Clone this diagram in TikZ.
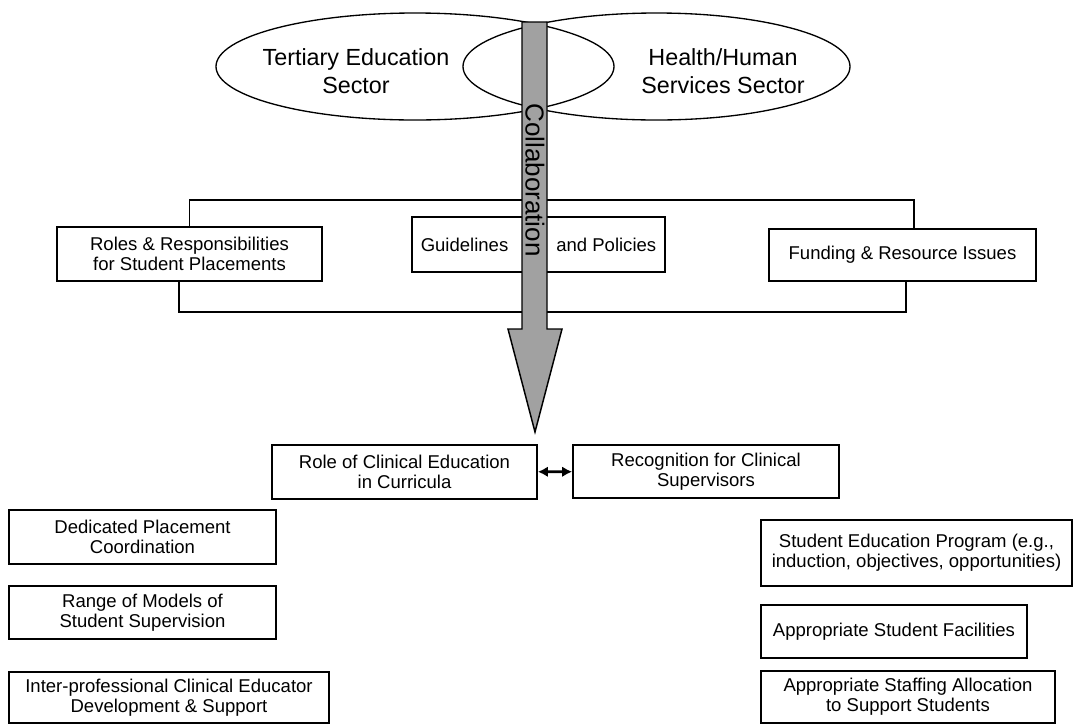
\documentclass[tikz,border=0pt]{standalone}
\usepackage{fontspec}
\setmainfont{Liberation Sans}
\usetikzlibrary{arrows.meta, positioning, calc}

\tikzset{
  box/.style={draw, line width=1.3pt, fill=white, inner sep=0pt, align=center,
    font=\fontsize{13.9}{14.8}\selectfont},
  sector/.style={align=center, font=\fontsize{17.5}{20.8}\selectfont},
  ring/.style={line width=1pt},
  brace/.style={line width=1.1pt},
}

\begin{document}
\begin{tikzpicture}[x=0.75pt, y=-0.75pt, >=latex]
    \useasboundingbox (0,0) rectangle (1075,726);

    % the two sectors
    \draw[ring] (415,66.5) ellipse [x radius=199, y radius=53.5];
    \draw[ring] (656.5,66.5) ellipse [x radius=193.5, y radius=53.5];
    \node[sector] (tert) at (356,71) {Tertiary Education\\Sector};
    \node[sector] (hhs) at (723,71) {Health/Human\\Services Sector};

    % upper row
    \node[box, minimum width=198.75pt, minimum height=40.5pt] (roles) at (189.5,254)
        {Roles \& Responsibilities\\for Student Placements};
    \node[box, minimum width=189.75pt, minimum height=41.25pt] (guide) at (538.5,244.5)
        {Guidelines\hspace{36pt}and Policies};
    \node[box, minimum width=200.25pt, minimum height=39pt] (fund) at (902.5,255)
        {Funding \& Resource Issues};

    \coordinate (bt) at (0,200);
    \coordinate (bb) at (0,312);
    \draw[brace] (roles.north) -- (roles.north |- bt) -| ([xshift=8.6pt]fund.north);
    \draw[brace] ([xshift=-7.9pt]roles.south) -- ([xshift=-7.9pt]roles.south |- bb)
        -| ([xshift=2.6pt]fund.south);

    % middle pair
    \node[box, minimum width=198.75pt, minimum height=40.5pt] (rolece) at (404.5,472)
        {Role of Clinical Education\\in Curricula};
    \node[box, minimum width=199.5pt, minimum height=39.75pt] (recog) at (706,471.5)
        {Recognition for Clinical\\Supervisors};
    \draw[{Latex[length=7.5pt,width=8pt]}-{Latex[length=7.5pt,width=8pt]}, line width=2pt]
        (rolece) -- (recog);

    % left column
    \node[box, minimum width=200.25pt, minimum height=40.5pt] (dedic) at (142.5,537)
        {Dedicated Placement\\Coordination};
    \node[box, minimum width=200.25pt, minimum height=39.75pt] (range) at (142.5,612.5)
        {Range of Models of\\Student Supervision};
    \node[box, minimum width=240pt, minimum height=38.25pt] (inter) at (169,697.5)
        {Inter-professional Clinical Educator\\Development \& Support};

    % right column
    \node[box, minimum width=233.25pt, minimum height=49.5pt] (sep) at (916.5,553)
        {Student Education Program (e.g.,\\induction, objectives, opportunities)};
    \node[box, minimum width=199.5pt, minimum height=39.75pt] (facil) at (894,631.5)
        {Appropriate Student Facilities};
    \node[box, minimum width=220.5pt, minimum height=39pt] (staff) at (908,697)
        {Appropriate Staffing Allocation\\to Support Students};

    % collaboration arrow
    \path[fill=black!37, draw=black, line width=1.1pt] (522,22) -- (547,22) -- (547,329)
        -- (562,329) -- (535,432) -- (508,329) -- (522,329) -- cycle;
    \node[rotate=-90, font=\fontsize{19.5}{19.5}\selectfont] (collab) at (535,180) {Collaboration};

\end{tikzpicture}
\end{document}
